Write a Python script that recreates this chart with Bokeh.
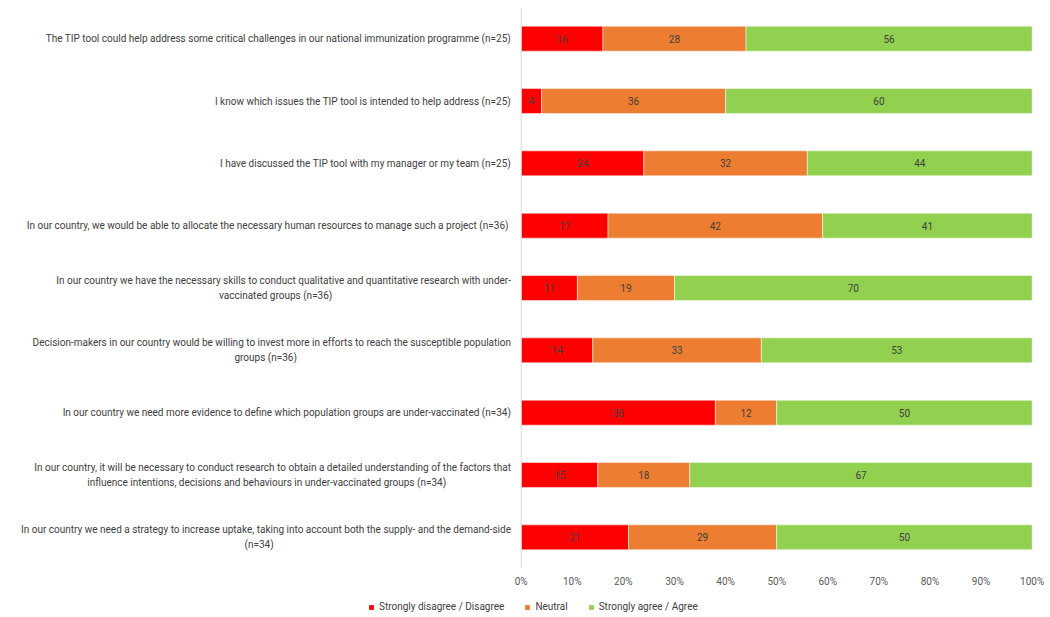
from bokeh.plotting import figure
from bokeh.layouts import column
from bokeh.models import Range1d, ColumnDataSource, Span, Legend, LegendItem, FixedTicker
from bokeh.core.properties import value
from bokeh.embed import file_html
from bokeh.resources import INLINE

# ---- data ----
statements = [
    ["The TIP tool could help address some critical challenges in our national immunization programme (n=25)"],
    ["I know which issues the TIP tool is intended to help address (n=25)"],
    ["I have discussed the TIP tool with my manager or my team (n=25)"],
    ["In our country, we would be able to allocate the necessary human resources to manage such a project  (n=36)"],
    ["In our country we have the necessary skills to conduct qualitative and quantitative research with under-",
     "vaccinated groups  (n=36)"],
    ["Decision-makers in our country would be willing to invest more in efforts to reach the susceptible population",
     "groups (n=36)"],
    ["In our country we need more evidence to define which population groups are under-vaccinated (n=34)"],
    ["In our country, it will be necessary to conduct research to obtain a detailed understanding of the factors that",
     "influence intentions, decisions and behaviours in under-vaccinated groups (n=34)"],
    ["In our country we need a strategy to increase uptake, taking into account both the supply- and the demand-side",
     "(n=34)"],
]
disagree = [16, 4, 24, 17, 11, 14, 38, 15, 21]
neutral = [28, 36, 32, 42, 19, 33, 12, 18, 29]
agree = [56, 60, 44, 41, 70, 53, 50, 67, 50]
series_names = ["Strongly disagree / Disagree", "Neutral", "Strongly agree / Agree"]
series_colors = ["#FF0000", "#ED7D31", "#92D050"]
tick_values = [0, 10, 20, 30, 40, 50, 60, 70, 80, 90, 100]
tick_labels = {t: f"{t}%" for t in tick_values}

FONT = "Roboto"
TXT = "#404040"

n = len(statements)
ys = list(range(n))

p = figure(width=1048, height=596, output_backend="svg", toolbar_location=None,
           x_range=Range1d(-100.33, 100.06), y_range=Range1d(n - 0.5, -0.5),
           min_border_left=8, min_border_right=16, min_border_top=7, min_border_bottom=28)
p.outline_line_color = None
p.grid.visible = False
p.yaxis.visible = False
ax = p.xaxis[0]
ax.ticker = FixedTicker(ticks=tick_values)
ax.major_label_overrides = tick_labels
ax.axis_line_color = None
ax.major_tick_out = 0
ax.major_tick_in = 0
ax.minor_tick_out = 0
ax.minor_tick_in = 0
ax.major_label_standoff = 7
ax.major_label_text_font = FONT
ax.major_label_text_font_size = "10px"
ax.major_label_text_color = "#595959"

# ---- legend strip below the chart (its bars fall outside its own y range) ----
lg = figure(width=1048, height=21, output_backend="svg", toolbar_location=None,
            x_axis_location=None, y_axis_location=None,
            x_range=Range1d(0, 100), y_range=Range1d(100, 101),
            min_border_left=0, min_border_right=0, min_border_top=0, min_border_bottom=0)
lg.outline_line_color = None
lg.grid.visible = False
items = []

series = [disagree, neutral, agree]
left = [0] * n
for vals, name, col in zip(series, series_names, series_colors):
    right = [l + v for l, v in zip(left, vals)]
    src = ColumnDataSource(dict(y=ys, left=left, right=right,
                                mid=[(l + r) / 2 for l, r in zip(left, right)],
                                lab=[str(v) for v in vals]))
    p.hbar(y="y", left="left", right="right", height=0.4, source=src,
           fill_color=col, line_color="white", line_width=0.5)
    p.text(x="mid", y="y", text="lab", source=src, text_align="center",
           text_baseline="middle", text_font=value(FONT), text_font_size="10px",
           text_color=TXT)
    r = lg.hbar(y="y", left="left", right="right", height=0.4, source=src,
                fill_color=col, line_color=None)
    items.append(LegendItem(label=name, renderers=[r]))
    left = right

# vertical axis line at 0
p.add_layout(Span(location=0, dimension="height", line_color="#D9D9D9", line_width=1))

# category labels (drawn as text to the left of the 0 line)
line_centers = {4: -47.8, 5: -50.0, 7: -49.8, 8: -51.3}
x1, y1, t1 = [], [], []
x2, y2, t2 = [], [], []
for i, lines in enumerate(statements):
    if len(lines) == 1:
        x1.append(-2.0); y1.append(i); t1.append(lines[0])
    else:
        x1.append(-2.0); y1.append(i - 0.12); t1.append(lines[0])
        x2.append(line_centers[i]); y2.append(i + 0.12); t2.append(lines[1])
p.text(x=x1, y=y1, text=t1, text_align="right", text_baseline="middle",
       text_font=value(FONT), text_font_size="10px", text_color=TXT)
p.text(x=x2, y=y2, text=t2, text_align="center", text_baseline="middle",
       text_font=value(FONT), text_font_size="10px", text_color=TXT)

legend = Legend(items=items, location=(360, 4), orientation="horizontal")
legend.padding = 0
legend.margin = 0
legend.border_line_color = None
legend.background_fill_alpha = 0
legend.glyph_width = 6
legend.glyph_height = 6
legend.label_standoff = 5
legend.spacing = 20
legend.label_text_font = FONT
legend.label_text_font_size = "10px"
legend.label_text_color = TXT
legend.label_height = 13
lg.add_layout(legend)

layout = column(p, lg, spacing=0)
open("out.html", "w").write(file_html(layout, INLINE))
